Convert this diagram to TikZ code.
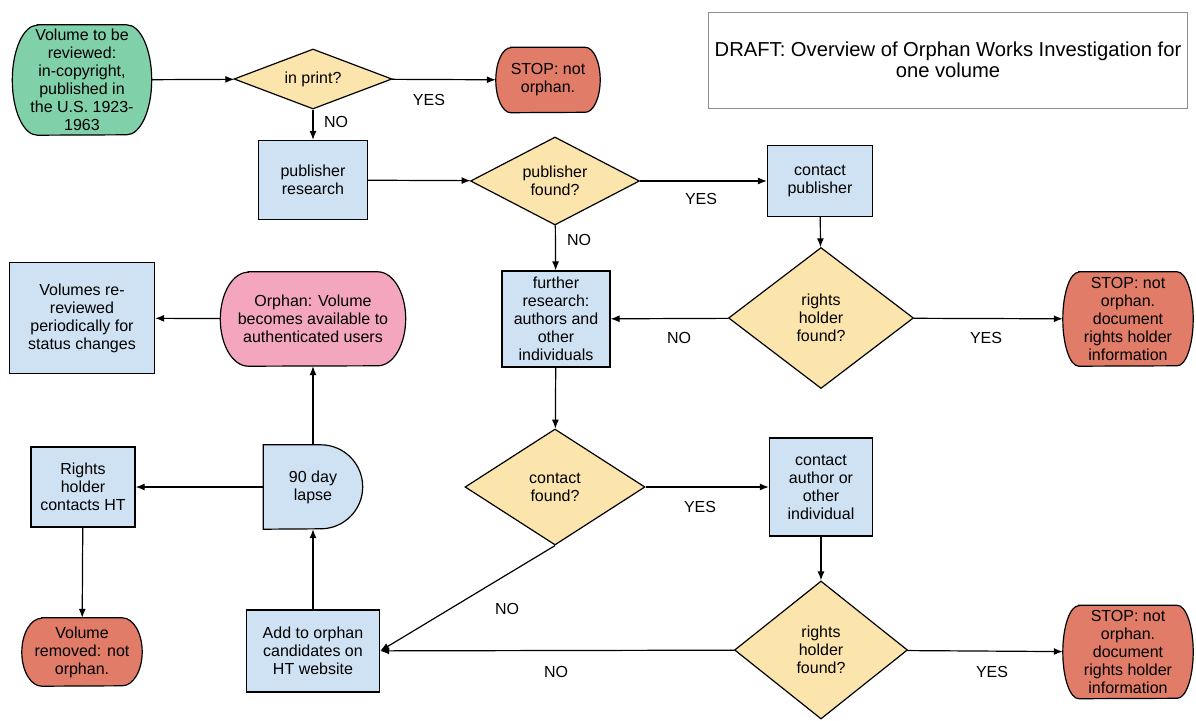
\documentclass[tikz,border=0pt]{standalone}
\usepackage{fontspec}
\setmainfont{Liberation Sans}
\usetikzlibrary{arrows.meta,shapes.geometric,backgrounds}

\definecolor{startgreen}{HTML}{80D0AA}
\definecolor{askyellow}{HTML}{FCE5AD}
\definecolor{stepblue}{HTML}{CFE2F3}
\definecolor{stopred}{HTML}{E07C67}
\definecolor{orphanpink}{HTML}{F4A6BF}

% Terminal outline with half-ellipse ends: node, x radius, y radius, fill.
\newcommand{\drawterminal}[4]{%
    \draw[outline, fill=#4] ([xshift=#2]#1.north west) -- ([xshift=-#2]#1.north east)
        arc[start angle=90, end angle=-90, x radius=#2, y radius=#3]
        -- ([xshift=#2]#1.south west)
        arc[start angle=270, end angle=90, x radius=#2, y radius=#3] -- cycle;
}

\begin{document}
\begin{tikzpicture}[
        x=1pt,
        y=-1pt,
        font=\fontsize{16}{18}\selectfont,
        outline/.style={
            draw=black,
            line width=1.2pt,
        },
        size/.style 2 args={
            minimum width=#1pt,
            minimum height=#2pt,
        },
        stepbox/.style={
            outline,
            rectangle,
            fill=stepblue,
            align=center,
            inner sep=0pt,
        },
        decision/.style={
            outline,
            diamond,
            shape aspect=1.3,
            fill=askyellow,
            align=center,
            inner sep=0pt,
        },
        terminal/.style={
            rectangle,
            align=center,
            inner sep=0pt,
        },
        flow/.style={
            line width=1.2pt,
            -{Latex[length=9pt,width=7pt]},
        },
        answer/.style={
            inner sep=0pt,
        },
    ]

    \useasboundingbox (0,0) rectangle (1196,720);

    % Start and first check.
    \node[terminal, size={139}{110}] (start) at (82,80)
        {Volume to be\\reviewed:\\in-copyright,\\published in\\the U.S. 1923-\\1963};
    \node[decision, shape aspect=2.6, size={158}{60}] (inprint) at (313,79) {in print?};
    \node[terminal, size={104}{65}] (stopprint) at (548,80) {STOP: not\\orphan.};
    \node[draw=black!45, line width=0.8pt, size={479}{96}, align=center,
        font=\fontsize{20.2}{21}\selectfont] (title) at (948,60)
        {DRAFT: Overview of Orphan Works Investigation for\\one volume};

    % Publisher branch.
    \node[stepbox, size={109}{79}] (pubres) at (313,180) {publisher\\research};
    \node[decision, shape aspect=2, size={169}{88}] (pubfound) at (555,181) {publisher\\found?};
    \node[stepbox, size={105}{71}] (contpub) at (820,181) {contact\\publisher};
    \node[decision, size={185}{141}] (holderpub) at (821,318) {rights\\holder\\found?};
    \node[terminal, size={130}{94}] (stoppub) at (1128,319)
        {STOP: not\\orphan.\\document\\rights holder\\information};

    % Author branch.
    \node[stepbox, size={108}{96}] (furres) at (556,319)
        {further\\research:\\authors and\\other\\individuals};
    \node[decision, shape aspect=1.5, size={180}{116}] (contfound) at (555,487) {contact\\found?};
    \node[stepbox, size={103}{98}] (contauth) at (821,487)
        {contact\\author or\\other\\individual};
    \node[decision, size={173}{138}] (holderauth) at (821,650) {rights\\holder\\found?};
    \node[terminal, size={130}{93}] (stopauth) at (1128,652)
        {STOP: not\\orphan.\\document\\rights holder\\information};

    % Orphan handling.
    \node[stepbox, size={133}{82}] (addorphan) at (313,651)
        {Add to orphan\\candidates on\\HT website};
    \node[terminal, size={99}{84}] (lapse) at (313,487) {90 day\\lapse};
    \node[terminal, size={185}{94}] (orphan) at (313,319)
        {Orphan: Volume\\becomes available to\\authenticated users};
    \node[stepbox, size={145}{111}] (rereview) at (82,318)
        {Volumes re-\\reviewed\\periodically for\\status changes};
    \node[stepbox, size={104}{80}] (holdercontact) at (83,487)
        {Rights\\holder\\contacts HT};
    \node[terminal, size={120}{68}] (removed) at (82,652)
        {Volume\\removed: not\\orphan.};

    % Rounded and delay outlines behind their texts.
    \begin{scope}[on background layer]
        \fill[white] (0,0) rectangle (1196,720);
        \drawterminal{start}{25pt}{55pt}{startgreen}
        \drawterminal{stopprint}{15pt}{32.5pt}{stopred}
        \drawterminal{stoppub}{16pt}{47pt}{stopred}
        \drawterminal{stopauth}{16pt}{46.5pt}{stopred}
        \drawterminal{orphan}{28pt}{47pt}{orphanpink}
        \drawterminal{removed}{20pt}{34pt}{stopred}
        \draw[outline, fill=stepblue] (lapse.north west) -- ([xshift=-42pt]lapse.north east)
            arc[start angle=90, end angle=-90, radius=42pt] -- (lapse.south west) -- cycle;
    \end{scope}

    % Answers.
    \node[answer] (yesprint) at (429,100) {YES};
    \node[answer] (noprint) at (336,122) {NO};
    \node[answer] (yespub) at (701,199) {YES};
    \node[answer] (nopub) at (579,240) {NO};
    \node[answer] (noholderpub) at (679,338) {NO};
    \node[answer] (yesholderpub) at (986,338) {YES};
    \node[answer] (yescontact) at (700,507) {YES};
    \node[answer] (nocontact) at (507,609) {NO};
    \node[answer] (noholderauth) at (556,672) {NO};
    \node[answer] (yesholderauth) at (992,672) {YES};

    % Flow.
    \draw[flow] (start) -- (inprint);
    \draw[flow] (inprint) -- (stopprint);
    \draw[flow] (inprint) -- (pubres);
    \draw[flow] (pubres) -- (pubfound);
    \draw[flow] (pubfound) -- (contpub);
    \draw[flow] (pubfound) -- (furres);
    \draw[flow] (contpub) -- (holderpub);
    \draw[flow] (holderpub) -- (furres);
    \draw[flow] (holderpub) -- (stoppub);
    \draw[flow] (furres) -- (contfound);
    \draw[flow] (contfound) -- (contauth);
    \draw[flow] (contfound.south) -- (addorphan.east);
    \draw[flow] (contauth) -- (holderauth);
    \draw[flow] (holderauth) -- (stopauth);
    \draw[flow] (holderauth) -- (addorphan);
    \draw[flow] (addorphan) -- (lapse);
    \draw[flow] (lapse.north) -- (orphan);
    \draw[flow] (lapse.west) -- (holdercontact);
    \draw[flow] (orphan) -- (rereview);
    \draw[flow] (holdercontact) -- (removed);
\end{tikzpicture}
\end{document}
